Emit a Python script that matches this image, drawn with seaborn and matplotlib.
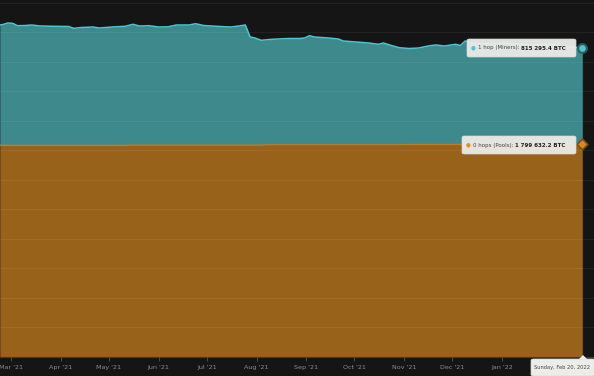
import matplotlib
matplotlib.use("Agg")
import matplotlib.pyplot as plt
import seaborn as sns
import pandas as pd
from matplotlib.patches import FancyBboxPatch, Polygon

dates = ["2021-02-22", "2021-02-24", "2021-02-27", "2021-03-02", "2021-03-05", "2021-03-10",
         "2021-03-14", "2021-03-19", "2021-03-28", "2021-04-06", "2021-04-09", "2021-04-14",
         "2021-04-21", "2021-04-25", "2021-05-03", "2021-05-11", "2021-05-16", "2021-05-20",
         "2021-05-26", "2021-06-01", "2021-06-07", "2021-06-12", "2021-06-20", "2021-06-24",
         "2021-06-29", "2021-07-09", "2021-07-16", "2021-07-21", "2021-07-25", "2021-07-28",
         "2021-07-31", "2021-08-04", "2021-08-09", "2021-08-14", "2021-08-21", "2021-08-28",
         "2021-08-31", "2021-09-03", "2021-09-06", "2021-09-15", "2021-09-21", "2021-09-24",
         "2021-10-02", "2021-10-10", "2021-10-16", "2021-10-19", "2021-10-24", "2021-10-29",
         "2021-11-04", "2021-11-10", "2021-11-17", "2021-11-21", "2021-11-26", "2021-12-03",
         "2021-12-06", "2021-12-09", "2021-12-14", "2021-12-24", "2022-01-02", "2022-01-11",
         "2022-01-21", "2022-01-30", "2022-02-08", "2022-02-14", "2022-02-20"]

pools_btc = [1791000] * 16 + [1793000] * 16 + [1795500] * 16 + [1798000] * 16 + [1799632.2]

miners_btc = [1018568, 1022799, 1035493, 1032954, 1012644, 1014337, 1018568, 1010105,
              1007566, 1005874, 990641, 997411, 1001643, 993180, 1001643, 1007566,
              1022492, 1008105, 1010644, 999643, 1001335, 1016568, 1016568, 1027569,
              1012337, 1003874, 999643, 1008105, 1016568, 915017, 906554, 887090,
              891360, 895591, 899823, 899823, 904054, 923518, 912517, 904054,
              895591, 878666, 870204, 861741, 850740, 861741, 840585, 821967,
              812697, 816928, 836392, 842316, 833853, 848240, 838085, 876166,
              859241, 850778, 859241, 850778, 842316, 850778, 833853, 825391, 815295.4]

tick_dates = ["2021-03-01", "2021-04-01", "2021-05-01", "2021-06-01", "2021-07-01", "2021-08-01",
              "2021-09-01", "2021-10-01", "2021-11-01", "2021-12-01", "2022-01-01"]
tick_labels = ["Mar '21", "Apr '21", "May '21", "Jun '21", "Jul '21", "Aug '21",
               "Sep '21", "Oct '21", "Nov '21", "Dec '21", "Jan '22"]

series_names = ["0 hops (Pools)", "1 hop (Miners)"]

BG = "#151515"
TEAL = "#3d898b"
CYAN = "#4ec5cf"
ORANGE = "#98621b"
ORANGE_LINE = "#c27c22"

sns.set_theme(style="dark", rc={"axes.facecolor": BG, "figure.facecolor": BG})
plt.rcParams["font.family"] = ["DejaVu Sans"]

W, H = 594, 376
fig = plt.figure(figsize=(W / 100, H / 100), dpi=100)
ax = fig.add_axes([0, 19 / H, 1, 354.5 / H])
ax.set_facecolor(BG)

df = pd.DataFrame({"date": pd.to_datetime(dates), "pools": pools_btc, "miners": miners_btc})
df["total"] = df["pools"] + df["miners"]

ax.stackplot(df["date"], df["pools"], df["miners"], colors=[ORANGE, TEAL], linewidth=0, zorder=2)
sns.lineplot(data=df, x="date", y="total", color=CYAN, lw=1.1, ax=ax, zorder=3)
sns.lineplot(data=df, x="date", y="pools", color=ORANGE_LINE, lw=1.0, ax=ax, zorder=3)

ax.set_xlim(pd.Timestamp("2021-02-22 03:00"), pd.Timestamp("2022-02-27 07:00"))
ax.set_ylim(0, 3000000)
ax.set_yticks(range(0, 3000001, 250000))
ax.yaxis.grid(True, color="white", alpha=0.06, lw=0.8, zorder=4)
ax.set_axisbelow(False)
ax.xaxis.grid(False)
ax.tick_params(axis="y", left=False, labelleft=False)
ax.set_xticks(pd.to_datetime(tick_dates))
ax.set_xticklabels(tick_labels)
ax.tick_params(axis="x", bottom=True, length=3, width=0.6, color="#555555",
               labelsize=4.6, labelcolor="#8c8c8c", pad=2.5)
ax.set_xlabel("")
ax.set_ylabel("")
for s in ["top", "left", "right"]:
    ax.spines[s].set_visible(False)
ax.spines["bottom"].set_color("#3a3a3a")
ax.spines["bottom"].set_linewidth(0.8)

# end markers
last = df.iloc[-1]
ax.scatter([last["date"]], [last["total"]], s=40, color=CYAN, edgecolor="#2a5e62", linewidth=1.5, zorder=6)
ax.scatter([last["date"]], [last["pools"]], s=30, marker="D", color="#d88a22", edgecolor="#7a4e16",
           linewidth=1.2, zorder=6)


def fx(px):
    return px / W


def fy(py):
    return 1 - py / H


def fmt(v):
    return f"{v:,.1f}".replace(",", " ") + " BTC"


renderer = fig.canvas.get_renderer()


def tooltip(x0, x1, y0, y1, dot_color, name, value):
    box = FancyBboxPatch((fx(x0), fy(y1)), fx(x1 - x0), (y1 - y0) / H,
                         boxstyle="round,pad=0,rounding_size=0.004", transform=fig.transFigure,
                         facecolor="#ecece8", edgecolor="#d8d8d0", lw=0.5, alpha=0.95, zorder=10)
    fig.patches.append(box)
    yc = (y0 + y1) / 2
    fig.text(fx(x0 + 6), fy(yc), "●", fontsize=4, color=dot_color, va="center", ha="center", zorder=11)
    t = fig.text(fx(x0 + 11), fy(yc), name + ": ", fontsize=4.0, color="#444444", va="center", zorder=11)
    bb = t.get_window_extent(renderer)
    fig.text(bb.x1 / W, fy(yc), fmt(value), fontsize=4.0, color="#222222", weight="bold",
             va="center", zorder=11)


tooltip(467, 576, 39, 57, CYAN, series_names[1], miners_btc[-1])
tooltip(462, 576, 136, 154, "#e09020", series_names[0], pools_btc[-1])

# date tooltip
box = FancyBboxPatch((fx(531), fy(376)), fx(64), 17 / H,
                     boxstyle="round,pad=0,rounding_size=0.004", transform=fig.transFigure,
                     facecolor="#ecece8", edgecolor="#d8d8d0", lw=0.5, zorder=10)
fig.patches.append(box)
tri = Polygon([[fx(579), fy(359)], [fx(583), fy(355)], [fx(587), fy(359)]], closed=True,
              transform=fig.transFigure, facecolor="#ecece8", edgecolor="none", zorder=10)
fig.patches.append(tri)
fig.text(fx(562.5), fy(368), last["date"].strftime("%A, %b %d, %Y"), fontsize=3.7, color="#444444",
         ha="center", va="center", zorder=11)

fig.savefig("out.png", dpi=100, facecolor=BG)
